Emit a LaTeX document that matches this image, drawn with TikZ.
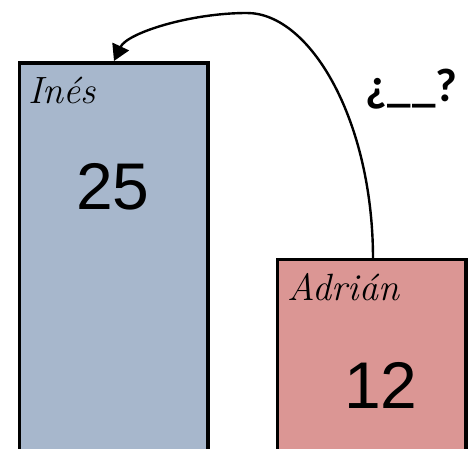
\documentclass[tikz,border=0pt]{standalone}
\usepackage{fontspec}
\newfontfamily\numfont{Liberation Sans}
\newfontfamily\qfont{Carlito}
\usetikzlibrary{arrows.meta}
\definecolor{bluebar}{HTML}{A7B7CC}
\definecolor{redbar}{HTML}{DB9694}
\begin{document}
\begin{tikzpicture}[x=1pt,y=-1pt,
  bar/.style={draw=black, line width=3.5pt, inner sep=0pt, outer sep=0pt, anchor=north west, minimum width=188.5pt, minimum height=400pt},
  namelabel/.style={font=\fontsize{38}{40}\selectfont\itshape, anchor=base west, inner sep=0pt},
  numlabel/.style={font=\numfont\fontsize{66}{70}\selectfont, inner sep=0pt},
  qlabel/.style={font=\qfont\bfseries\fontsize{47}{50}\selectfont, anchor=base, inner sep=0pt},
  link/.style={line width=2.4pt, -{Triangle[length=16pt,width=18pt]}}
]
\useasboundingbox (0,0) rectangle (475,449);
\clip (0,0) rectangle (475,449);
\node[bar, fill=bluebar] (ines) at (19.5,63) {};
\node[bar, fill=redbar] (adrian) at (277.5,259.5) {};
\node[namelabel] (inesname) at (28,104) {Inés};
\node[numlabel] (inesnum) at (113,187) {25};
\node[namelabel] (adrianname) at (287,301) {Adrián};
\node[numlabel] (adriannum) at (381,385) {12};
\node[qlabel] (question) at (411.5,102) {¿\_\kern2pt\_?};
\coordinate (start) at (373,259);
\coordinate (apex) at (247,13);
\coordinate (tip) at (114,61);
\draw[link] (start) .. controls (373,120) and (310,13) .. (apex) .. controls (190,13) and (127,33) .. (tip);
\end{tikzpicture}
\end{document}
